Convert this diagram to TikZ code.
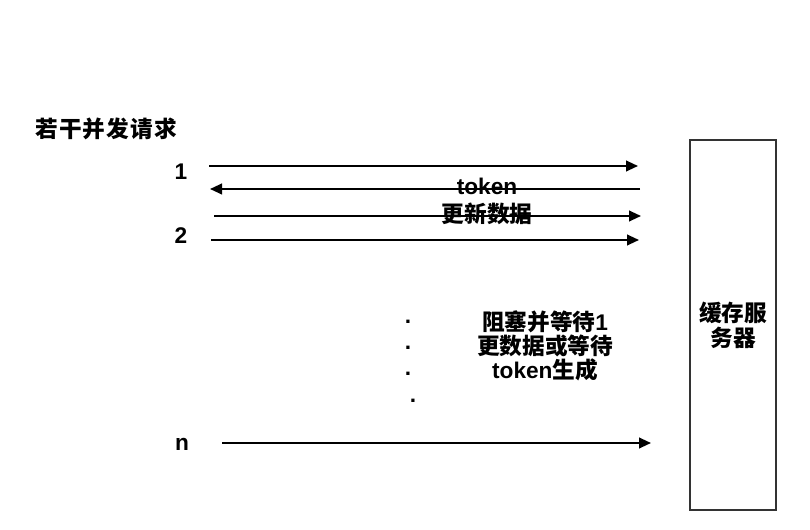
\documentclass[tikz,border=0pt]{standalone}
\usepackage{fontspec}
\setmainfont{Liberation Sans}
\newfontfamily\cjk{Noto Sans CJK SC}
\usetikzlibrary{arrows.meta}
\definecolor{ink}{HTML}{000000}
\definecolor{frame}{HTML}{333333}

\begin{document}
\begin{tikzpicture}[
  x=0.75pt,y=-0.75pt,
  every node/.style={font=\bfseries\fontsize{17}{18}\selectfont,inner sep=0pt,text=ink},
  msg/.style={line width=1.5pt,draw=ink,-{Triangle[length=9pt,width=8pt]}},
  server/.style={draw=frame,line width=1.5pt,minimum width=64.5pt,minimum height=277.5pt,align=center},
  note/.style={align=center}
]
\useasboundingbox (0,0) rectangle (810,530);

\node[anchor=west] (title) at (35,129) {\cjk 若\kern0.9pt 干\kern0.9pt 并\kern0.9pt 发\kern0.9pt 请\kern0.9pt 求};
\node (req1) at (181,172) {1};
\node (req2) at (181,236) {2};
\node (reqn) at (182,444) {n};
\node[server] (cache) at (733,325) {\cjk 缓存服\\[1pt]\cjk 务器};

% message ends
\coordinate (s1) at (209,166); \coordinate (e1) at (638,166);
\coordinate (s2) at (640,189); \coordinate (e2) at (210,189);
\coordinate (s3) at (214,216); \coordinate (e3) at (641,216);
\coordinate (s4) at (211,240); \coordinate (e4) at (639,240);
\coordinate (sn) at (222,443); \coordinate (en) at (651,443);

\draw[msg] (s1) -- (e1);
\draw[msg] (s2) -- (e2);
\draw[msg] (s3) -- (e3);
\draw[msg] (s4) -- (e4);
\draw[msg] (sn) -- (en);

\node (tok) at (487,186) {token};
\node (upd) at (487,214) {\cjk 更新数据};

\node (dot1) at (408,322) {.};
\node (dot2) at (408,348) {.};
\node (dot3) at (408,374) {.};
\node (dot4) at (413,401) {.};
\node[note] (wait) at (545,346) {{\cjk 阻塞并等待}1\\{\cjk 更数据或等待}\\token{\cjk 生成}};
\end{tikzpicture}
\end{document}
